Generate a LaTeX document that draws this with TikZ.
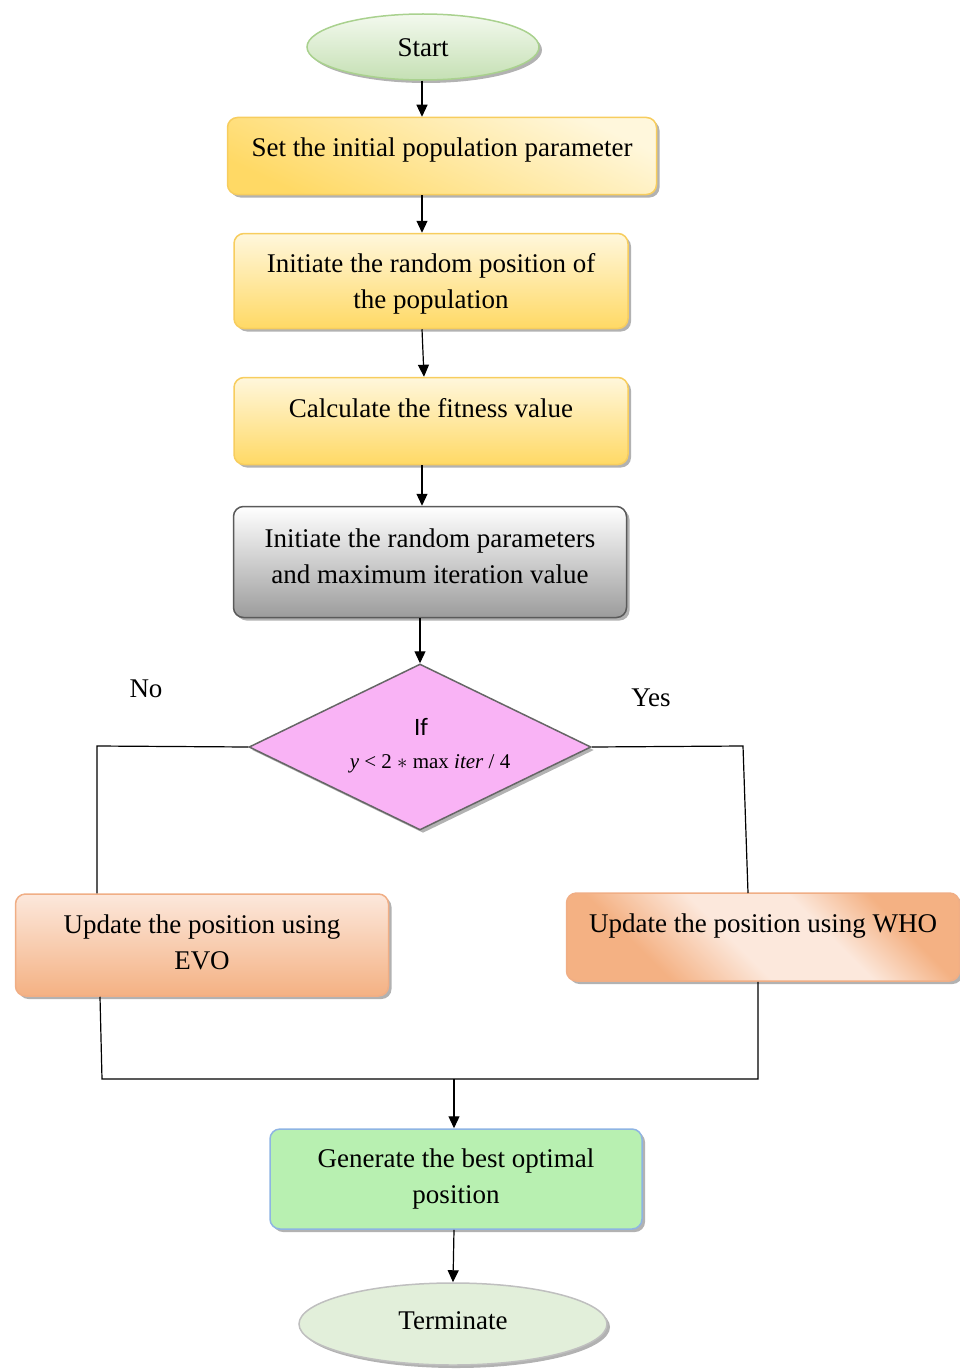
\documentclass[tikz,border=0pt]{standalone}
\usepackage{fontspec}
\setmainfont{Liberation Serif}
\newfontfamily\ifont{Carlito}
\usetikzlibrary{shapes.geometric,shadows,arrows.meta}
\definecolor{ylwB}{HTML}{F7CD5E}
\definecolor{ylwD}{HTML}{FFD965}
\definecolor{ylwL}{HTML}{FFF7DC}
\definecolor{grnB}{HTML}{A9D18E}
\definecolor{grnD}{HTML}{C5E0B4}
\definecolor{grnL}{HTML}{F3F9EE}
\definecolor{gryB}{HTML}{5A5A5A}
\definecolor{gryD}{HTML}{9C9C9C}
\definecolor{pnk}{HTML}{F9B3F5}
\definecolor{orgB}{HTML}{F0AE85}
\definecolor{orgD}{HTML}{F4B183}
\definecolor{orgL}{HTML}{FCE8DC}
\definecolor{genF}{HTML}{B8F0B1}
\definecolor{genB}{HTML}{8EB4E3}
\definecolor{trmF}{HTML}{E2EFDA}
\definecolor{trmB}{HTML}{BFBFBF}
\pgfdeclareverticalshading{whoshade}{100bp}{color(0bp)=(orgD); color(30bp)=(orgD); color(45bp)=(orgL); color(60bp)=(orgL); color(72bp)=(orgD); color(100bp)=(orgD)}
\tikzset{
  x=1pt, y=-1pt,
  txt/.style={font=\fontsize{27}{36}\selectfont, align=center, text height=19pt},
  two/.style={text height=62pt},
  shd/.style={drop shadow={shadow xshift=3pt, shadow yshift=-3pt, fill=black!30, opacity=1}},
  rbox/.style={txt, shd, rectangle, rounded corners=10pt, inner sep=0pt, line width=1.5pt},
  oval/.style={txt, shd, ellipse, inner sep=0pt, line width=1.5pt},
  arr/.style={line width=1.2pt, -{Triangle[length=12pt,width=11pt]}},
  ln/.style={line width=1.2pt},
}
\begin{document}
\begin{tikzpicture}
\useasboundingbox (0,0) rectangle (960,1370);
\node[oval, draw=grnB, top color=grnL, bottom color=grnD, minimum width=232pt, minimum height=66pt, text depth=0pt] (start) at (423,47) {Start};
\node[rbox, draw=ylwB, top color=ylwL, bottom color=ylwD, shading angle=-25, minimum width=429pt, minimum height=77pt, text depth=18pt] (set) at (442,156) {Set the initial population parameter};
\node[rbox, two, draw=ylwB, top color=ylwL, bottom color=ylwD, minimum width=394pt, minimum height=95pt, text depth=7pt] (pos) at (431,281) {Initiate the random position of\\the population};
\node[rbox, draw=ylwB, top color=ylwL, bottom color=ylwD, minimum width=394pt, minimum height=87pt, text depth=26pt] (fit) at (431,421) {Calculate the fitness value};
\node[rbox, two, draw=gryB, top color=white, bottom color=gryD, minimum width=393pt, minimum height=111pt, text depth=20pt] (par) at (430,562) {Initiate the random parameters\\and maximum iteration value};
\node[diamond, shd, draw=black!60, fill=pnk, line width=1.5pt, minimum width=342pt, minimum height=166pt, inner sep=0pt, aspect=2.06, align=center] (dia) at (420,747) {};
\node[font=\ifont\fontsize{25}{28}\selectfont] (ift) at (421,727) {If};
\node[font=\fontsize{21}{24}\selectfont] (cond) at (430,764) {\textit{y} < 2 $\ast$ max \textit{iter} / 4};
\node[font=\fontsize{27}{36}\selectfont] (no) at (146,689) {No};
\node[font=\fontsize{27}{36}\selectfont] (yes) at (651,698) {Yes};
\node[rbox, two, draw=orgB, top color=orgL, bottom color=orgD, minimum width=373pt, minimum height=102pt, text depth=13pt] (evo) at (202,945) {Update the position using\\EVO};
\node[rbox, draw=orgB, shading=whoshade, shading angle=-45, minimum width=393pt, minimum height=88pt, text depth=28pt] (who) at (763,937) {Update the position using WHO};
\node[rbox, two, draw=genB, fill=genF, minimum width=372pt, minimum height=100pt, text depth=13pt] (gen) at (456,1179) {Generate the best optimal\\position};
\node[oval, draw=trmB, fill=trmF, minimum width=308pt, minimum height=82pt, text depth=8pt] (term) at (453,1324) {Terminate};
% connectors
\draw[arr] (start.south -| 422,0) -- (set.north -| 422,0);
\draw[arr] (set.south -| 422,0) -- (pos.north -| 422,0);
\draw[arr] (pos.south -| 422,0) -- (fit.north -| 424,0);
\draw[arr] (fit.south -| 422,0) -- (par.north -| 422,0);
\draw[arr] (par.south -| 420,0) -- (dia.north);
\coordinate (nl) at (97,746);
\coordinate (yr) at (743,746);
\coordinate (yb) at (748,893);
\draw[ln] (dia.west) -- (nl) -- (evo.north -| nl);
\draw[ln] (dia.east) -- (yr) -- (yb);
\coordinate (m1) at (102,1079);
\coordinate (m2) at (758,1079);
\coordinate (mc) at (454,1079);
\draw[ln] (evo.south -| 100,0) -- (m1) -- (m2) -- (who.south -| m2);
\draw[arr] (mc) -- (gen.north -| mc);
\draw[arr] (gen.south -| 454,0) -- (term.north);
\end{tikzpicture}
\end{document}
